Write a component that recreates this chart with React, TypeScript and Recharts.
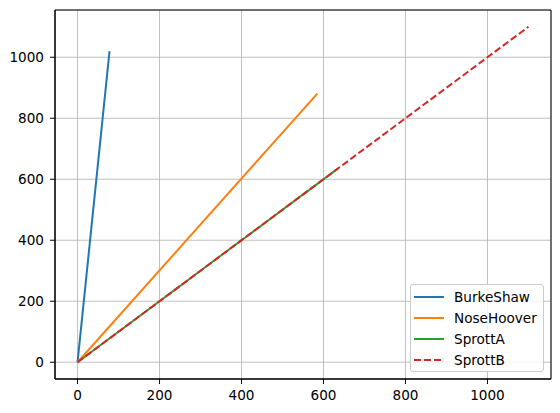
import { LineChart, Line, XAxis, YAxis, CartesianGrid, ReferenceArea } from "recharts";

const burkeShawX = [0, 78];
const burkeShawY = [0, 1020];
const noseHooverX = [0, 585];
const noseHooverY = [0, 881];
const sprottAX = [0, 635];
const sprottAY = [0, 635];
const sprottBX = [0, 1100];
const sprottBY = [0, 1100];

const xTicks = [0, 200, 400, 600, 800, 1000];
const yTicks = [0, 200, 400, 600, 800, 1000];

const series = [
  { name: "BurkeShaw", xs: burkeShawX, ys: burkeShawY, color: "#1f77b4", dash: undefined },
  { name: "NoseHoover", xs: noseHooverX, ys: noseHooverY, color: "#ff7f0e", dash: undefined },
  { name: "SprottA", xs: sprottAX, ys: sprottAY, color: "#2ca02c", dash: undefined },
  { name: "SprottB", xs: sprottBX, ys: sprottBY, color: "#d62728", dash: "7 3" },
];

const font = "DejaVu Sans";
const fontSize = 13.6;

function LegendBox() {
  return (
    <div
      style={{
        position: "absolute",
        left: 410,
        top: 284,
        width: 134,
        height: 88,
        boxSizing: "border-box",
        background: "rgba(255,255,255,0.8)",
        border: "1px solid #cccccc",
        borderRadius: 3,
        padding: "1px 0 0 3px",
        fontFamily: font,
        fontSize,
        color: "#000",
      }}
    >
      {series.map((s) => (
        <div key={s.name} style={{ display: "flex", alignItems: "center", height: 21.2 }}>
          <svg width={30} height={4} style={{ marginRight: 10 }}>
            <line
              x1={0}
              y1={2}
              x2={30}
              y2={2}
              stroke={s.color}
              strokeWidth={2}
              strokeDasharray={s.dash}
            />
          </svg>
          <span>{s.name}</span>
        </div>
      ))}
    </div>
  );
}

export default function App() {
  return (
    <div style={{ position: "absolute", left: 0, top: 0, width: 560, height: 413, background: "#fff" }}>
      <LineChart width={560} height={413} margin={{ top: 10, right: 9, left: 0, bottom: 0 }}>
        <CartesianGrid stroke="#b0b0b0" strokeWidth={0.8} />
        <XAxis
          type="number"
          dataKey="x"
          domain={[-55, 1155]}
          ticks={xTicks}
          allowDataOverflow
          height={34}
          tickSize={5}
          tickMargin={6.5}
          stroke="#000"
          tick={{ fill: "#000", fontFamily: font, fontSize }}
        />
        <YAxis
          type="number"
          dataKey="y"
          domain={[-55, 1155]}
          ticks={yTicks}
          allowDataOverflow
          width={55}
          tickSize={5}
          tickMargin={6}
          stroke="#000"
          tick={{ fill: "#000", fontFamily: font, fontSize }}
        />
        <ReferenceArea x1={-55} x2={1155} y1={-55} y2={1155} fill="none" stroke="#000" strokeWidth={1} />
        {series.map((s) => (
          <Line
            key={s.name}
            name={s.name}
            data={s.xs.map((x, i) => ({ x, y: s.ys[i] }))}
            dataKey="y"
            stroke={s.color}
            strokeWidth={2}
            strokeDasharray={s.dash}
            dot={false}
            activeDot={false}
            type="linear"
            isAnimationActive={false}
          />
        ))}
      </LineChart>
      <LegendBox />
    </div>
  );
}
